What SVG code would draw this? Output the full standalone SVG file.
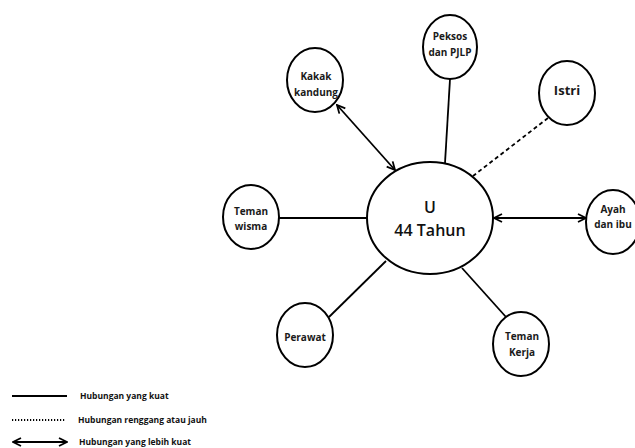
<svg xmlns="http://www.w3.org/2000/svg" width="635" height="448" viewBox="0 0 635 448">
<defs>
<marker id="arr" viewBox="0 0 10 10" refX="9" refY="5" markerWidth="10" markerHeight="10" markerUnits="userSpaceOnUse" orient="auto-start-reverse">
<path d="M1,1 L9,5 L1,9" fill="none" stroke="#000" stroke-width="1.8"/>
</marker>
</defs>
<style>
.n{fill:#fff;stroke:#000;stroke-width:2}
.t{font-family:"Open Sans","DejaVu Sans",sans-serif;font-weight:bold;font-size:10px;fill:#1a1a1a;text-anchor:middle}
.c{font-family:"Open Sans","DejaVu Sans",sans-serif;font-weight:600;font-size:16px;fill:#111;text-anchor:middle}
.l{font-family:"Open Sans","DejaVu Sans",sans-serif;font-weight:bold;font-size:8.5px;fill:#111}
.e{stroke:#000;stroke-width:1.8;fill:none}
</style>
<rect width="635" height="448" fill="#fff"/>
<g id="connectors">
<line class="e" x1="337" y1="105" x2="395" y2="170" marker-start="url(#arr)" marker-end="url(#arr)"/>
<line class="e" x1="450" y1="79" x2="445" y2="163"/>
<line class="e" x1="548" y1="118" x2="473" y2="176" stroke-dasharray="4,3"/>
<line class="e" x1="494" y1="218" x2="586" y2="218" marker-start="url(#arr)" marker-end="url(#arr)"/>
<line class="e" x1="279" y1="218" x2="367" y2="218"/>
<line class="e" x1="329" y1="317" x2="386" y2="261"/>
<line class="e" x1="462" y1="268" x2="506" y2="317"/>
</g>
<g id="node-center">
<ellipse class="n" cx="430" cy="218" rx="63" ry="56"/>
<text class="c" x="430" y="213">U</text>
<text class="c" x="430" y="236">44 Tahun</text>
</g>
<g id="node-kakak">
<ellipse class="n" cx="315" cy="80" rx="28" ry="32"/>
<text class="t" x="316" y="80">Kakak</text>
<text class="t" x="316" y="96">kandung</text>
</g>
<g id="node-peksos">
<ellipse class="n" cx="450" cy="47" rx="27" ry="32"/>
<text class="t" x="450" y="40">Peksos</text>
<text class="t" x="450" y="56">dan PJLP</text>
</g>
<g id="node-istri">
<ellipse class="n" cx="567" cy="93" rx="28" ry="32"/>
<text class="t" x="567" y="95" style="font-size:13px">Istri</text>
</g>
<g id="node-ayah">
<ellipse class="n" cx="613" cy="222" rx="27" ry="32"/>
<text class="t" x="613" y="213">Ayah</text>
<text class="t" x="613" y="228">dan ibu</text>
</g>
<g id="node-wisma">
<ellipse class="n" cx="251" cy="217" rx="28" ry="32"/>
<text class="t" x="251" y="215">Teman</text>
<text class="t" x="251" y="230">wisma</text>
</g>
<g id="node-perawat">
<ellipse class="n" cx="305" cy="335" rx="28" ry="32"/>
<text class="t" x="305" y="341">Perawat</text>
</g>
<g id="node-kerja">
<ellipse class="n" cx="521" cy="344" rx="28" ry="32"/>
<text class="t" x="522" y="340">Teman</text>
<text class="t" x="522" y="356">Kerja</text>
</g>
<g id="legend">
<line class="e" x1="12" y1="396" x2="67" y2="396"/>
<text class="l" x="80" y="399">Hubungan yang kuat</text>
<line class="e" x1="12" y1="420" x2="65" y2="420" stroke-dasharray="1.2,1.8"/>
<text class="l" x="78" y="423">Hubungan renggang atau jauh</text>
<line class="e" x1="13" y1="442" x2="67" y2="442" marker-start="url(#arr)" marker-end="url(#arr)"/>
<text class="l" x="79" y="445">Hubungan yang lebih kuat</text>
</g>
</svg>
